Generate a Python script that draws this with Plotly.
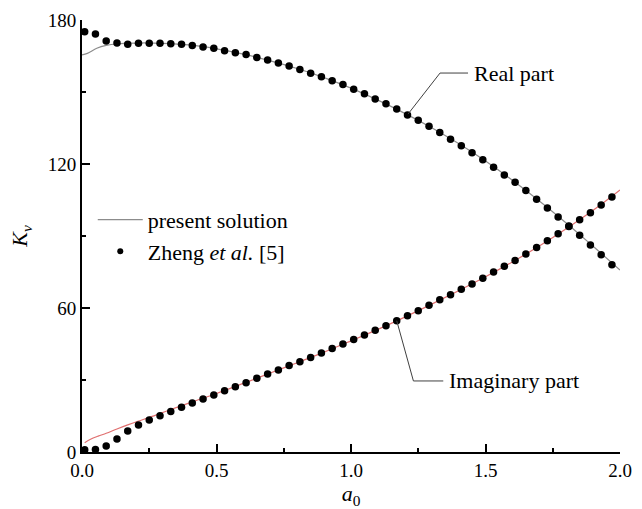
import plotly.graph_objects as go

# Zheng et al. [5] data points
x_dots = [0.01, 0.05, 0.09, 0.13, 0.17, 0.21, 0.25, 0.29, 0.33, 0.37,
          0.41, 0.45, 0.49, 0.53, 0.57, 0.61, 0.65, 0.69, 0.73, 0.77,
          0.81, 0.85, 0.89, 0.93, 0.97, 1.01, 1.05, 1.09, 1.13, 1.17,
          1.21, 1.25, 1.29, 1.33, 1.37, 1.41, 1.45, 1.49, 1.53, 1.57,
          1.61, 1.65, 1.69, 1.73, 1.77, 1.81, 1.85, 1.89, 1.93, 1.97]
real_dots = [175.1, 174.2, 171.2, 170.4, 169.9, 170.3, 170.3, 170.3, 170.1, 169.9,
             169.4, 168.8, 168.2, 167.2, 166.4, 165.6, 164.4, 163.3, 162.1, 160.8,
             159.4, 157.8, 156.4, 154.7, 153.1, 151.1, 149.3, 147.1, 145.1, 142.9,
             140.4, 138.2, 135.7, 133.1, 130.3, 127.6, 124.7, 121.8, 118.6, 115.4,
             112.4, 109.0, 105.3, 101.7, 97.9, 94.2, 90.3, 86.3, 82.2, 78.0]
imag_dots = [0.9, 1.0, 2.5, 5.4, 8.8, 11.3, 13.3, 15.1, 16.9, 18.6,
             20.4, 22.1, 23.8, 25.5, 27.2, 28.9, 30.7, 32.5, 34.2, 36.0,
             37.6, 39.4, 41.2, 43.1, 45.0, 46.9, 48.8, 50.7, 52.6, 54.7,
             56.8, 58.9, 61.1, 63.4, 65.5, 67.8, 70.0, 72.4, 75.0, 77.4,
             79.8, 82.5, 85.2, 88.0, 90.9, 94.0, 96.8, 99.7, 102.9, 106.3]

# present solution curves
x_real_line = [0.0, 0.02, 0.055, 0.09, 0.13, 0.2, 0.3, 0.4, 0.5, 0.6, 0.7, 0.8, 0.9,
               1.0, 1.1, 1.2, 1.3, 1.4, 1.5, 1.6, 1.7, 1.8, 1.9, 2.0]
real_line = [165.5, 166.1, 168.2, 169.4, 170.1, 170.4, 170.3, 169.6, 168.0, 165.8,
             163.0, 159.8, 156.0, 151.6, 146.6, 141.1, 135.1, 128.5, 121.2, 113.2,
             104.6, 95.4, 85.7, 75.8]
x_imag_line = [0.01, 0.03, 0.06, 0.09, 0.13, 0.17, 0.21, 0.25, 0.33, 0.41, 0.5, 0.6,
               0.7, 0.8, 0.9, 1.0, 1.1, 1.2, 1.3, 1.4, 1.5, 1.6, 1.7, 1.8, 1.9, 2.0]
imag_line = [3.9, 5.2, 6.6, 7.8, 9.6, 11.3, 12.9, 14.4, 17.7, 20.9, 24.4, 28.6,
             32.9, 37.2, 41.6, 46.3, 51.1, 56.2, 61.6, 67.2, 73.0, 79.2, 85.8,
             93.0, 100.7, 109.2]

x_ticks = [0.0, 0.5, 1.0, 1.5, 2.0]
x_ticklabels = ["0.0", "0.5", "1.0", "1.5", "2.0"]
y_ticks = [0, 60, 120, 180]
y_ticklabels = ["0", "60", "120", "180"]

FONT = "'Liberation Serif', 'Times New Roman', Times, 'DejaVu Serif', serif"

fig = go.Figure()
fig.add_trace(go.Scatter(x=x_real_line, y=real_line, mode="lines",
                         line=dict(color="#8c8c8c", width=1.2, shape="spline"),
                         name="present solution", showlegend=True))
fig.add_trace(go.Scatter(x=x_imag_line, y=imag_line, mode="lines",
                         line=dict(color="#e07070", width=1.2, shape="spline"),
                         showlegend=False))
fig.add_trace(go.Scatter(x=x_dots, y=real_dots, mode="markers",
                         marker=dict(color="black", size=7.5), showlegend=False))
fig.add_trace(go.Scatter(x=x_dots, y=imag_dots, mode="markers",
                         marker=dict(color="black", size=7.5), showlegend=False))
# legend entry for the data points
fig.add_trace(go.Scatter(x=[None], y=[None], mode="markers",
                         marker=dict(color="black", size=6),
                         name="Zheng <i>et al.</i> [5]", showlegend=True))

# leader lines
fig.add_trace(go.Scatter(x=[1.212, 1.331, 1.435], y=[140.8, 157.9, 157.9], mode="lines",
                         line=dict(color="#404040", width=1), showlegend=False, hoverinfo="skip"))
fig.add_trace(go.Scatter(x=[1.170, 1.232, 1.343], y=[54.7, 29.6, 29.6], mode="lines",
                         line=dict(color="#404040", width=1), showlegend=False, hoverinfo="skip"))

fig.add_annotation(x=1.45, y=157.9, text="Real part", showarrow=False, xanchor="left",
                   yanchor="middle", font=dict(family=FONT, size=22, color="black"))
fig.add_annotation(x=1.355, y=29.6, text="Imaginary part", showarrow=False, xanchor="left",
                   yanchor="middle", font=dict(family=FONT, size=22, color="black"))

axis_common = dict(showline=True, linecolor="black", linewidth=1.8, mirror=False,
                   ticks="inside", ticklen=8, tickwidth=1.5, tickcolor="black",
                   showgrid=False, zeroline=False, automargin=False,
                   tickfont=dict(family=FONT, size=19, color="black"))

fig.update_xaxes(range=[0, 2.0], tickvals=x_ticks, ticktext=x_ticklabels,
                 minor=dict(ticks="inside", ticklen=4, tickwidth=1.5, tickcolor="black", dtick=0.25, tick0=0),
                 title=dict(text="<i>a</i><sub>0</sub>", font=dict(family=FONT, size=22, color="black"), standoff=14),
                 **axis_common)
fig.update_yaxes(range=[0, 180], tickvals=y_ticks, ticktext=y_ticklabels,
                 minor=dict(ticks="inside", ticklen=4, tickwidth=1.5, tickcolor="black", dtick=30, tick0=0),
                 title=dict(text="<i>K</i><sub><i>v</i></sub>", font=dict(family=FONT, size=22, color="black"), standoff=14),
                 **axis_common)

fig.update_layout(
    width=642, height=509,
    margin=dict(l=82, r=22, t=20, b=57),
    plot_bgcolor="white", paper_bgcolor="white",
    font=dict(family=FONT, color="black"),
    legend=dict(x=0.02, y=0.586, xanchor="left", yanchor="top",
                font=dict(family=FONT, size=22, color="black"),
                bgcolor="rgba(0,0,0,0)", itemwidth=45, tracegroupgap=0),
)

fig.write_html("out.html")
